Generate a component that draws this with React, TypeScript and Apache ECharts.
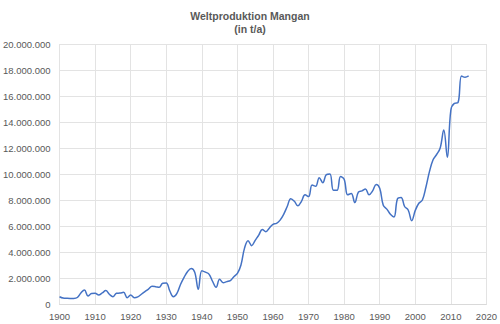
import React, { useEffect, useRef } from "react";
import * as echarts from "echarts";

const years: number[] = [];
for (let y = 1900; y <= 2015; y++) years.push(y);

// production in million t/a, one value per year 1900..2015
const productionMt: number[] = [
  0.56, 0.46, 0.44, 0.43, 0.43, 0.5, 0.85, 1.08, 0.62, 0.8,
  0.82, 0.69, 0.85, 1.03, 0.75, 0.56, 0.82, 0.84, 0.9, 0.49,
  0.69, 0.49, 0.55, 0.75, 0.95, 1.15, 1.36, 1.33, 1.28, 1.6,
  1.62, 1.0, 0.56, 0.82, 1.5, 2.05, 2.5, 2.74, 2.45, 1.13,
  2.56, 2.45, 2.3, 1.75, 1.28, 1.9, 1.64, 1.72, 1.8, 2.1,
  2.35, 3.0, 4.3, 4.87, 4.49, 4.9, 5.3, 5.74, 5.56, 5.85,
  6.13, 6.2, 6.45, 6.9, 7.5, 8.1, 7.9, 7.55, 7.9, 8.4,
  8.26, 9.15, 9.05, 9.72, 9.33, 9.95, 10.0, 8.75, 8.75, 9.8,
  9.6, 8.4, 8.5, 7.8, 8.6, 8.7, 8.85, 8.4, 8.7, 9.2,
  8.9, 7.6, 7.3, 6.9, 6.7, 8.1, 8.2, 7.5, 7.23, 6.41,
  7.2, 7.75, 8.0, 9.0, 10.2, 11.1, 11.5, 12.0, 13.38, 11.28,
  14.92, 15.44, 15.49, 17.54, 17.44, 17.54,
];

const titleLines = ["Weltproduktion Mangan", "(in t/a)"];

const fmt = (v: number) =>
  Math.round(v)
    .toString()
    .replace(/\B(?=(\d{3})+(?!\d))/g, ".");

export default function App() {
  const ref = useRef<HTMLDivElement>(null);
  useEffect(() => {
    if (!ref.current) return;
    const chart = echarts.init(ref.current, undefined, { renderer: "svg" });
    const data = years.map((y, i) => [y, productionMt[i] * 1e6]);
    const font = "'Liberation Sans', Arial, sans-serif";
    chart.setOption({
      animation: false,
      backgroundColor: "#ffffff",
      title: {
        text: titleLines.join("\n"),
        left: "center",
        top: 4,
        textStyle: {
          fontFamily: font,
          fontSize: 10.5,
          fontWeight: "bold",
          color: "#595959",
          lineHeight: 13,
        },
      },
      grid: { left: 57, right: 13, top: 44, bottom: 20, containLabel: false },
      xAxis: {
        type: "value",
        min: 1900,
        max: 2020,
        interval: 10,
        axisLine: { show: true, lineStyle: { color: "#d9d9d9" } },
        axisTick: { show: false },
        splitLine: { show: true, lineStyle: { color: "#e3e3e3" } },
        axisLabel: {
          color: "#595959",
          fontFamily: font,
          fontSize: 9.5,
          margin: 7,
          formatter: (v: number) => String(v),
        },
      },
      yAxis: {
        type: "value",
        min: 0,
        max: 20000000,
        interval: 2000000,
        axisLine: { show: false },
        axisTick: { show: false },
        splitLine: { show: true, lineStyle: { color: "#e3e3e3" } },
        axisLabel: {
          color: "#595959",
          fontFamily: font,
          fontSize: 9.5,
          margin: 9,
          formatter: fmt,
        },
      },
      series: [
        {
          type: "line",
          data,
          smooth: 0.4,
          showSymbol: false,
          lineStyle: { color: "#4472c4", width: 1.5 },
        },
      ],
    });
    return () => chart.dispose();
  }, []);
  return (
    <div
      ref={ref}
      style={{ position: "fixed", left: 0, top: 0, width: 500, height: 324 }}
    />
  );
}
